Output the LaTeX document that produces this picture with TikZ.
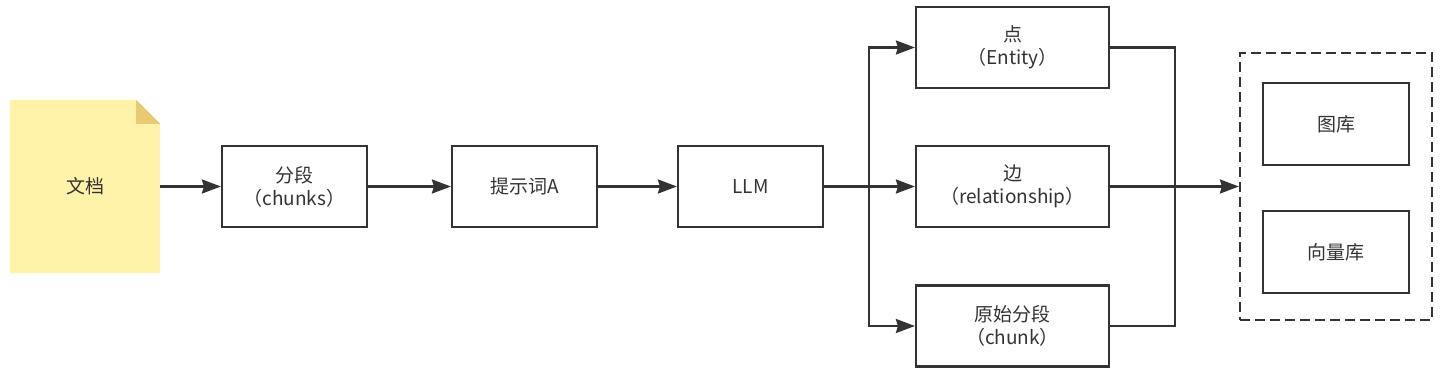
\documentclass[tikz,border=0pt]{standalone}
\usepackage{fontspec}
\setsansfont{Noto Sans CJK SC}
\usetikzlibrary{arrows.meta}
\definecolor{lineGrey}{HTML}{333333}
\definecolor{docYellow}{HTML}{FFF3A9}
\definecolor{docFold}{HTML}{E8CA72}

\begin{document}
\begin{tikzpicture}[
    x=1pt, y=-1pt,
    every node/.style={font=\sffamily\fontsize{19}{23}\selectfont, text=lineGrey, align=center},
    box/.style={draw=lineGrey, line width=2.2pt, minimum width=145pt, minimum height=81pt},
    widebox/.style={box, minimum width=193pt},
    store/.style={draw=lineGrey, line width=2.2pt, dash pattern=on 10pt off 5pt, minimum width=192pt, minimum height=267pt},
    docnode/.style={minimum width=150pt, minimum height=173pt, inner sep=0pt},
    conn/.style={draw=lineGrey, line width=2.2pt},
    arr/.style={conn, -{Stealth[length=19pt, width=14pt, inset=2pt]}}
  ]
    \useasboundingbox (0,0) rectangle (1440,377);

    % document sheet with folded corner
    \node[docnode] (doc) at (85,186.5) {};
    \fill[docYellow] (doc.north west) -- ([xshift=-24pt]doc.north east) -- ([yshift=-24pt]doc.north east)
      -- (doc.south east) -- (doc.south west) -- cycle;
    \fill[docFold] ([xshift=-24pt]doc.north east) -- ([yshift=-24pt]doc.north east) -- ([xshift=-24pt,yshift=-24pt]doc.north east) -- cycle;
    \node at (doc) {文档};

    \node[box] (chunks) at (294.5,186.5) {分段\\（chunks）};
    \node[box] (prompt) at (524.5,186.5) {提示词A};
    \node[box] (llm) at (750.5,186.5) {LLM};

    \node[widebox] (entity) at (1012.5,47.5) {点\\（Entity）};
    \node[widebox] (relation) at (1012.5,186.5) {边\\（relationship）};
    \node[widebox] (rawchunk) at (1012.5,326) {原始分段\\（chunk）};

    \node[store] (db) at (1336,186.5) {};
    \node[box, minimum width=146pt, minimum height=82pt] (graphdb) at (1336,124) {图库};
    \node[box, minimum width=146pt, minimum height=82pt] (vectordb) at (1336,252) {向量库};

    \coordinate (split) at (869,186.5);
    \coordinate (merge) at (1175,186.5);

    \draw[arr] (doc) -- (chunks);
    \draw[arr] (chunks) -- (prompt);
    \draw[arr] (prompt) -- (llm);
    \draw[conn] (llm) -- (split);
    \draw[arr] (split) |- (entity);
    \draw[arr] (split) -- (relation);
    \draw[arr] (split) |- (rawchunk);
    \draw[conn] (entity) -| (merge) |- (rawchunk);
    \draw[arr] (relation) -- (db);
  \end{tikzpicture}
\end{document}
